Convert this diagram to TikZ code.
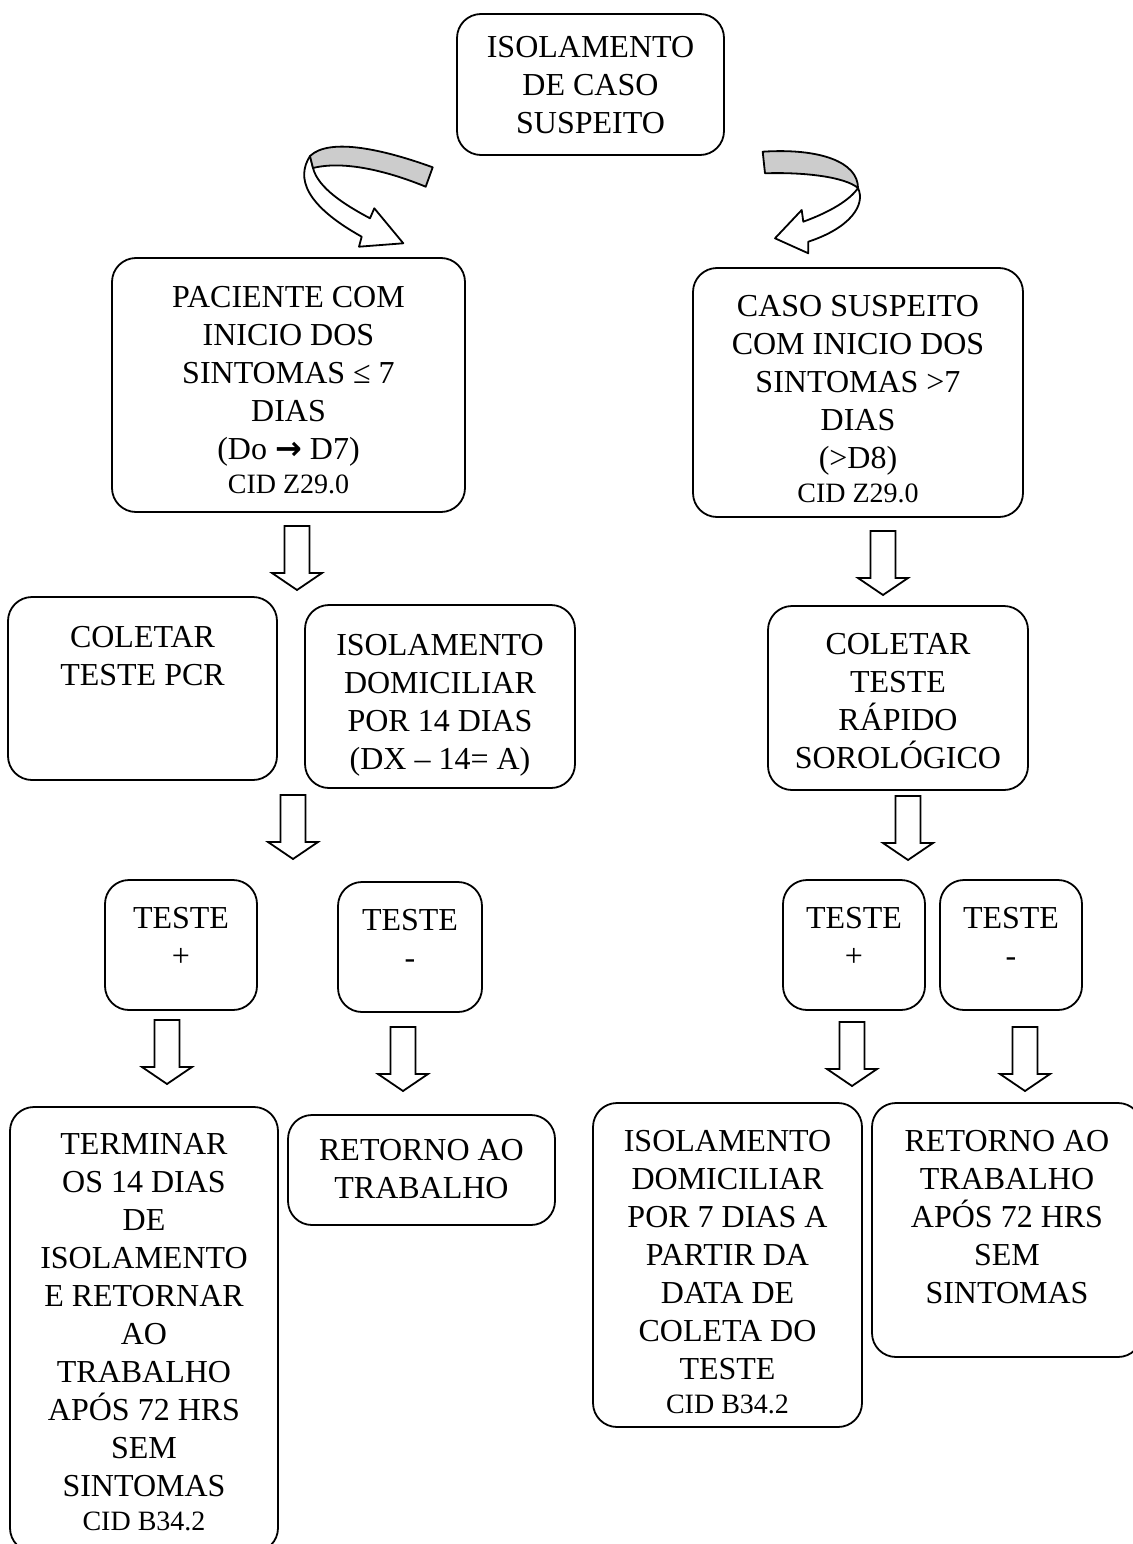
\documentclass[tikz,border=0pt]{standalone}
\usepackage{fontspec}
\setmainfont{Liberation Serif}
\newfontfamily\dvsans{DejaVu Sans}
\usetikzlibrary{fit}
\tikzset{
  bx/.style={draw, line width=1.8pt, rounded corners=24pt, inner sep=0pt},
  tx/.style={anchor=north, align=center, inner sep=0pt, font=\fontsize{32}{38}\selectfont},
  blk/.style={draw, line width=1.8pt, fill=white, line join=miter},
  ribbonw/.style={draw, line width=1.8pt, fill=white, line join=round},
  ribbong/.style={draw, line width=1.8pt, fill=gray!40, line join=round},
}
\newcommand\fl{\rule{0pt}{24pt}}
\newcommand\cidtxt[1]{{\fontsize{28}{32}\selectfont #1}}
% box: name, x1, y1, x2, y2, pad, text
\newcommand\mybox[7]{%
  \path (#2,#3) coordinate (#1-a) (#4,#5) coordinate (#1-b);
  \node[bx, fit=(#1-a)(#1-b)] (#1) {};
  \node[tx] (#1-t) at ([yshift=-#6pt]#1.north) {\fl #7};
}
% block arrow: name, center x, top y
\newcommand\blkarr[3]{%
  \coordinate (#1) at (#2,#3);
  \draw[blk] (#1) ++(-12.5,0) -- ++(0,47) -- ++(-12.5,0) -- ++(25,17) -- ++(25,-17) -- ++(-12.5,0) -- ++(0,-47) -- cycle;
}
\begin{document}
\begin{tikzpicture}[x=1pt,y=-1pt]
\useasboundingbox (0,0) rectangle (1132,1544);
\fill[white] (0,0) rectangle (1132,1544);

\mybox{b0}{457}{14}{724}{155}{20}{ISOLAMENTO\\DE CASO\\SUSPEITO}
\mybox{b1}{112}{258}{465}{512}{26}{PACIENTE COM\\INICIO DOS\\SINTOMAS ≤ 7\\DIAS\\(Do {\dvsans\bfseries →} D7)\\[-4pt]\cidtxt{CID Z29.0}}
\mybox{b2}{693}{268}{1023}{517}{25}{CASO SUSPEITO\\COM INICIO DOS\\SINTOMAS >7\\DIAS\\(>D8)\\[-4pt]\cidtxt{CID Z29.0}}
\mybox{b3}{8}{597}{277}{780}{27}{COLETAR\\TESTE PCR}
\mybox{b4}{305}{605}{575}{788}{27}{ISOLAMENTO\\DOMICILIAR\\POR 14 DIAS\\(DX – 14= A)}
\mybox{b5}{768}{606}{1028}{790}{25}{COLETAR\\TESTE\\RÁPIDO\\SOROLÓGICO}
\mybox{b6}{105}{880}{257}{1010}{25}{TESTE\\+}
\mybox{b7}{338}{882}{482}{1012}{25}{TESTE\\-}
\mybox{b8}{783}{880}{925}{1010}{25}{TESTE\\+}
\mybox{b9}{940}{880}{1082}{1010}{25}{TESTE\\-}
\mybox{b10}{10}{1107}{278}{1552}{24}{TERMINAR\\OS 14 DIAS\\DE\\ISOLAMENTO\\E RETORNAR\\AO\\TRABALHO\\APÓS 72 HRS\\SEM\\SINTOMAS\\[-4pt]\cidtxt{CID B34.2}}
\mybox{b11}{288}{1115}{555}{1225}{22}{RETORNO AO\\TRABALHO}
\mybox{b12}{593}{1103}{862}{1427}{25}{ISOLAMENTO\\DOMICILIAR\\POR 7 DIAS A\\PARTIR DA\\DATA DE\\COLETA DO\\TESTE\\[-4pt]\cidtxt{CID B34.2}}
\mybox{b13}{872}{1103}{1142}{1357}{25}{RETORNO AO\\TRABALHO\\APÓS 72 HRS\\SEM\\SINTOMAS}

% curved arrows from the top box
\draw[ribbonw] (310,156) .. controls (296,178) and (305,205) .. (361.7,236.7)
  -- (359,246.7) -- (403.3,243.3) -- (374.3,208.3) -- (370,218.3)
  .. controls (345,205) and (318,188) .. (313,168) -- cycle;
\draw[ribbong] (432.7,167.3) .. controls (385,150) and (330,137) .. (310,156)
  -- (313,168) .. controls (345,160) and (390,172) .. (425.7,186.7) -- cycle;

\draw[ribbonw] (858,188) .. controls (866,205) and (850,228) .. (808.3,241.7)
  -- (808.3,253.3) -- (775,238.3) -- (801.7,210) -- (803.3,221.7)
  .. controls (830,212) and (850,200) .. (858,188) -- cycle;
\draw[ribbong] (762.7,151.7) .. controls (820,148) and (858,162) .. (858,188)
  .. controls (845,177) and (805,172) .. (765,173.3) -- cycle;

% block arrows
\blkarr{a1}{297}{526}
\blkarr{a2}{883}{531}
\blkarr{a3}{293}{795}
\blkarr{a4}{908}{796}
\blkarr{a5}{167}{1020}
\blkarr{a6}{403}{1027}
\blkarr{a7}{852}{1022}
\blkarr{a8}{1025}{1027}
\end{tikzpicture}
\end{document}
